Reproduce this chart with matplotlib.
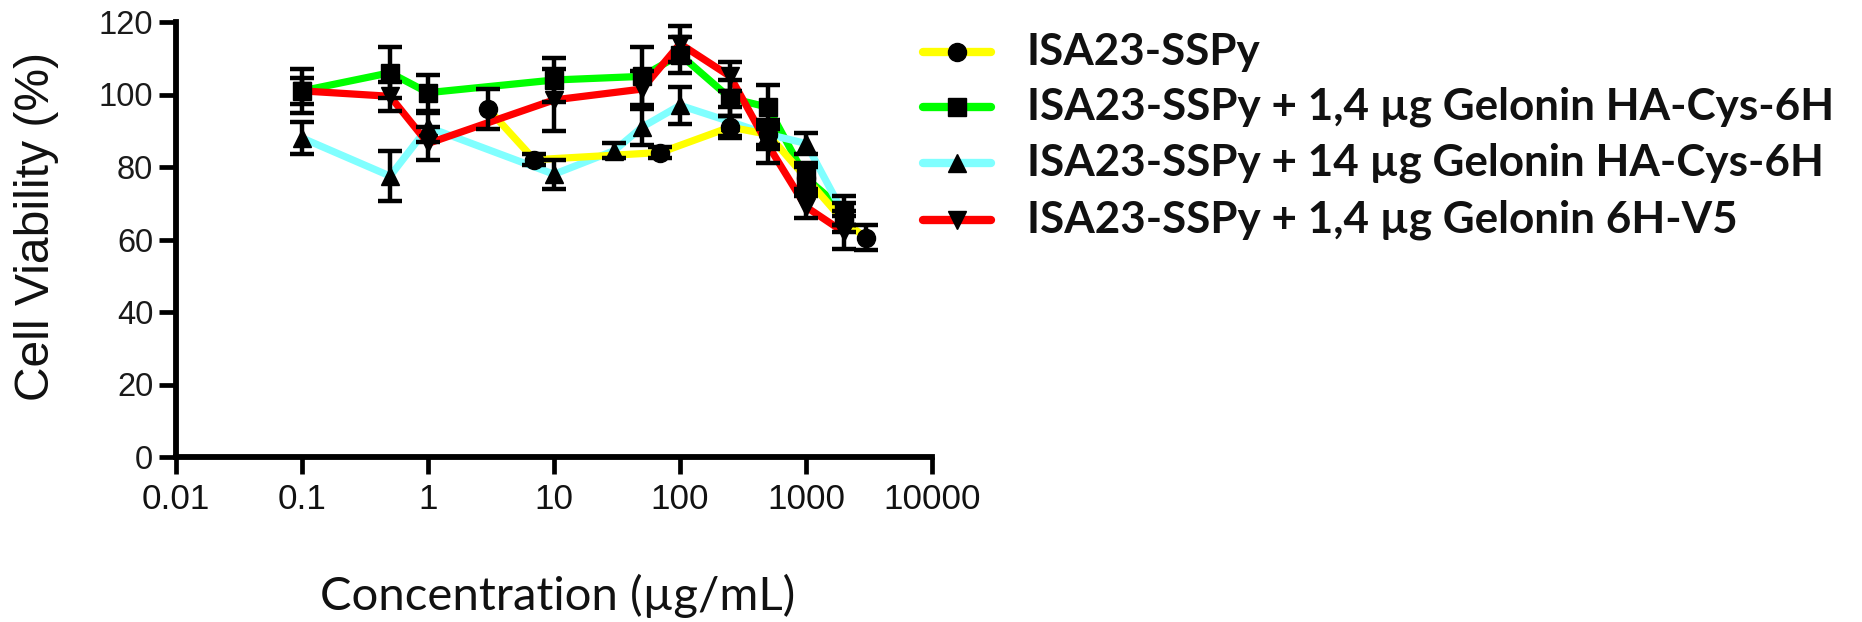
import matplotlib
matplotlib.use("Agg")
import matplotlib.pyplot as plt
from matplotlib import font_manager
from matplotlib.lines import Line2D

# ---------------- data ----------------
x_yellow = [3, 7, 70, 250, 500, 1000, 2000, 3000]
y_yellow = [96, 82, 84, 91, 89, 77, 65, 60.5]
e_yellow = [5.5, 1.5, 1.5, 3, 3, 3, 3, 3.5]

x_green = [0.1, 0.5, 1, 10, 50, 100, 250, 500, 1000, 2000]
y_green = [101, 106, 100.5, 104, 105, 111, 99, 96.5, 77, 68]
e_green = [6, 7, 5, 6, 8, 5, 5, 6, 4, 4]

x_cyan = [0.1, 0.5, 1, 10, 30, 50, 100, 250, 500, 1000, 2000]
y_cyan = [88, 77.5, 91, 78, 84.5, 91, 97, 92.5, 89, 86.5, 67]
e_cyan = [4.5, 7, 4, 4, 2, 5, 5, 4, 4, 3, 3]

x_red = [0.1, 0.5, 1, 10, 50, 100, 250, 500, 1000, 2000]
y_red = [101, 99.5, 86.5, 98.5, 101.5, 114, 105, 86, 69, 62]
e_red = [3.5, 4, 4.5, 8.5, 5, 5, 4, 5, 3, 4.5]

labels = ["ISA23-SSPy",
          "ISA23-SSPy + 1,4 \u00b5g Gelonin HA-Cys-6H",
          "ISA23-SSPy + 14 \u00b5g Gelonin HA-Cys-6H",
          "ISA23-SSPy + 1,4 \u00b5g Gelonin 6H-V5"]
x_ticks = [0.01, 0.1, 1, 10, 100, 1000, 10000]
x_ticklabels = ["0.01", "0.1", "1", "10", "100", "1000", "10000"]
y_ticks = [0, 20, 40, 60, 80, 100, 120]

# ---------------- fonts ----------------
names = {f.name for f in font_manager.fontManager.ttflist}
arial = "Liberation Sans"
narrow = "Liberation Sans Narrow" if "Liberation Sans Narrow" in names else "Liberation Sans"
calibri = "Lato" if "Lato" in names else "DejaVu Sans"

W, H = 1862, 622
fig = plt.figure(figsize=(W / 100, H / 100), dpi=100)
fig.patch.set_facecolor("white")

left_px, right_px, top_px, bot_px = 176, 932, 22, 457
ax = fig.add_axes([left_px / W, 1 - bot_px / H, (right_px - left_px) / W, (bot_px - top_px) / H])
ax.set_xscale("log")
ax.set_xlim(0.01, 10000)
ax.set_ylim(0, 120)

series = [
    (x_yellow, y_yellow, e_yellow, "#FFFF00", "o"),
    (x_green, y_green, e_green, "#00FF00", "s"),
    (x_cyan, y_cyan, e_cyan, "#80FFFF", "^"),
    (x_red, y_red, e_red, "#FF0000", "v"),
]

draw_order = [1, 2, 0, 3]
for i in draw_order:
    xs, ys, es, col, mk = series[i]
    ax.plot(xs, ys, color=col, lw=5.2, solid_joinstyle="round", solid_capstyle="round", zorder=2)
for i in draw_order:
    xs, ys, es, col, mk = series[i]
    ax.errorbar(xs, ys, yerr=es, fmt="none", ecolor="black", elinewidth=3.2,
                capsize=8.5, capthick=3.2, zorder=3)
    ax.plot(xs, ys, linestyle="none", marker=mk, color="black", ms=13, zorder=4, clip_on=False)

for s in ["top", "right"]:
    ax.spines[s].set_visible(False)
for s in ["left", "bottom"]:
    ax.spines[s].set_linewidth(4.2)
    ax.spines[s].set_color("black")
ax.spines["bottom"].set_capstyle("projecting")

ax.set_yticks(y_ticks)
ax.set_yticklabels([str(v) for v in y_ticks], fontfamily=arial, fontsize=23.5, color="#1a1a1a")
ax.set_xticks(x_ticks)
ax.set_xticklabels(x_ticklabels, fontfamily=narrow, fontsize=31, color="#111111")
ax.minorticks_off()
ax.tick_params(axis="y", direction="out", length=12, width=3.4, pad=4.3)
ax.tick_params(axis="x", direction="out", length=12, width=3.4, pad=6.5)

fig.canvas.draw()
renderer = fig.canvas.get_renderer()


def fit_width(t, target):
    bb = t.get_window_extent(renderer)
    w = bb.height if t.get_rotation() == 90 else bb.width
    t.set_fontsize(t.get_fontsize() * target / w)


# fit x tick label size so that "1000" is ~78 px wide
probe = fig.text(0, 0, "1000", fontfamily=narrow, fontsize=31)
bb = probe.get_window_extent(renderer)
xt_size = 31 * 78 / bb.width
probe.remove()
for lab in ax.get_xticklabels():
    lab.set_fontsize(xt_size)

# axis titles
ylab = fig.text(37 / W, 1 - 226 / H, "Cell Viability (%)", rotation=90, fontfamily=arial,
                fontsize=34, ha="center", va="center", color="#111111")
fit_width(ylab, 348)

xlab = fig.text(558 / W, 1 - 610 / H, "Concentration (\u00b5g/mL)", fontfamily=calibri,
                fontsize=30, ha="center", va="baseline", color="#111111")
fit_width(xlab, 475)

# legend (manual)
row_y = [52, 107, 163, 220]
hx0, hx1, tx = 923, 991, 1027
texts = []
for (xs, ys, es, col, mk), lab, ry in zip(series, labels, row_y):
    yf = 1 - ry / H
    fig.add_artist(Line2D([hx0 / W, hx1 / W], [yf, yf], transform=fig.transFigure,
                          color=col, lw=6, solid_capstyle="round"))
    fig.add_artist(Line2D([(hx0 + hx1) / 2 / W], [yf], transform=fig.transFigure,
                          marker=mk, color="black", ms=13, linestyle="none"))
    t = fig.text(tx / W, yf, lab, fontfamily=calibri, fontweight="bold", fontsize=28,
                 ha="left", va="center", color="#111111")
    texts.append(t)

bb = texts[1].get_window_extent(renderer)
scale = (1835 - tx) / bb.width
for t in texts:
    t.set_fontsize(t.get_fontsize() * scale)

fig.savefig("out.png", dpi=100, facecolor="white")
